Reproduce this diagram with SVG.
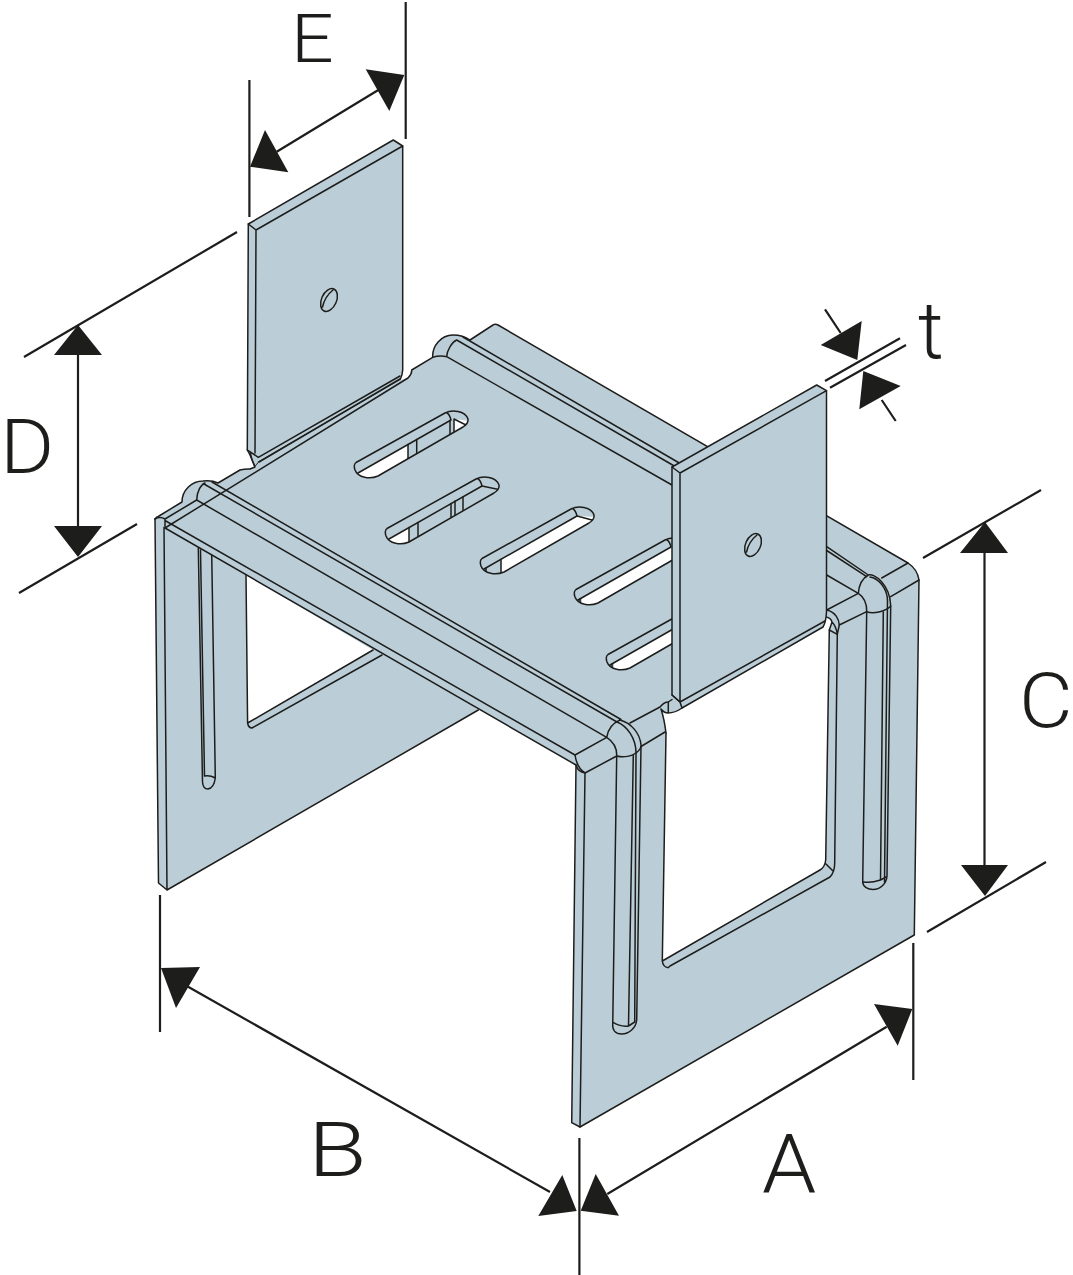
<svg xmlns="http://www.w3.org/2000/svg" width="1073" height="1275" viewBox="0 0 1073 1275">
<style>
.f{fill:#bbced8;stroke:none}
.o{fill:#bbced8;stroke:#1d1d1b;stroke-width:1.5;stroke-linejoin:round}
.l{fill:none;stroke:#1d1d1b;stroke-width:1.5;stroke-linejoin:round;stroke-linecap:round}
.w{fill:#fff;stroke:none}
.d{fill:none;stroke:#1d1d1b;stroke-width:2.2}
.h{fill:#1d1d1b;stroke:none}
.t{font-family:"Roboto","Liberation Sans",Arial,sans-serif;font-weight:300;font-size:76px;fill:#1d1d1b}
</style>
<defs>
<path id="slot" d="M356,462.500 L445,413 C452,409.500 465,410.500 468,419 C468.500,422 466,425 463,427 L378,476 C370,479.500 358,478 355,470 C354,467 354,464 356,462.500 Z"/>
<clipPath id="sc"><use href="#slot"/></clipPath>
<path id="innerline" d="M358,473 L451,420 C450,416 449,414 447,413"/>
</defs>
<rect width="1073" height="1275" fill="#fff"/>

<g id="tab-left">
<path class="o" d="M248.300,224 L393.300,140 L402.700,146 L402.700,370 Q402.500,375 400,380 L259,462 L255,467 L250,455 L247.300,450 Z"/>
<path class="l" d="M248.300,224 L256,230 L402.700,146 M256,230 L255,453 M247.300,450 L258.300,457.300 M250,451.500 C251,458 253,463 255,467 M258.300,457.300 L400,376"/>
<ellipse class="l" cx="329" cy="300" rx="7.500" ry="12" transform="rotate(24 329 300)"/>
<path class="l" d="M322.500,307 C324,300 328,294 333,290"/>
</g>

<g id="panel-left">
<path class="f" d="M155,519 L158.500,883 L167,890 L478.300,710 L400,650 L165,525 Z"/>
<path class="w" d="M246,575 L247.600,723 L373,650 Z"/>
<path class="l" d="M155,519 L158.500,883 L167,890 L478.300,710 M164,527 L167,890 M158.500,883 L167,890"/>
<path class="l" d="M246,575 L247.600,723 L373,650 M247.600,723 Q248.500,728 252,728 L382,655"/>
<path class="l" d="M198.300,548 L202.500,782 Q203,789 208,789 Q214,788 215.300,778 L211.700,553 M200.500,550 L204.500,776 M204.500,776 Q210,775 215.300,778"/>
</g>

<g id="body">
<path class="f" d="M155,519 Q156,517 159,516 L182,502 C182,490 192,481 203,481 Q212,480 218,483 L240,470 Q245,468.800 250,469 L255,467 L259,462 L400,380 L408,378 Q412,374 411.700,370 L432.700,357.300 C432,346 441,335 453,335 Q463,335 470,340 L493,325 Q495,323.500 498,325 L908,563 C914,567 918,573 919,580 L914.300,935 L580,1127 L571.700,1122.700 L576,765 L165,528 Z"/>
<path class="w" d="M666,733 C665,725 664,718 661,709.500 Q664,713 668,713 Q675,713 682,708 L823,627 L826,617 Q831,618 832,622 L829.300,632 L825.700,860 Q825,867 820,870 L662.500,961 Z"/>

<path class="l" d="M155,519 Q156,517 159,516 L182,502 C182,490 192,481 203,481 Q212,480 218,483 L240,470 Q245,468.800 250,469 L255,467"/>
<path class="l" d="M259,462 L400,379 M408,378 Q412,374 411.700,370 L432.700,357.300 C432,346 441,335 453,335 Q463,335 470,340 L493,325 Q495,323.500 498,325 L908,563 C914,567 918,573 919,580 L914.300,935 L580,1127 L571.700,1122.700 L576,765 L165,528 Z"/>
<path class="l" d="M155,519 Q160,516 165,519 L165,528 M165,519 L196.700,500 C197,491 201,484.500 205,483 M165,520.500 L575,755 Q577,768 585,773 L616.700,756 M576,765 Q578,772 585,773"/>
<path class="l" d="M196.700,500 L606.700,737.300 L575,755 M606.700,737.300 C608,729 613,723 620,720 M204,484 L617,722 M212,482 L621,719.500 M606.700,737.300 C614,742 617,749 616.700,756 C624,758 632,756 636,753 C640,750 641.500,748 641,745 C640,733 631,723 620,720 M617,722 C627,726 636,738 636,753 M641,746.500 L665,732 M630,723 L660,707 Q664,702 668.300,702 L672,699.500"/>
<path class="l" d="M661,709 Q664,713 668,713 Q675,713 682,708 M668.300,702 L668.300,712.700 M666,733 C665,725 664,718 661,709"/>

<path class="l" d="M432.700,357.300 Q440,355 446.700,356.700 C447,350 452,342 456.700,340 M446.700,356.700 L672,485 M456.700,340 L676,467 M463,337 L681,464"/>

<path class="l" d="M826.700,546.700 L868.300,575 M826.700,550.500 L866.700,576.700 M826.700,575 L858.300,593.300 M826.700,610 L858.300,593.300 C859,585 863,578 868.300,575 C874,573 890,584 890.700,606 C885,612 873,614 866.700,611.700 C867,602 864,597 858.300,593.300 M870,577 C878,578 887,588 887.500,600 M881.700,578 L908,563 M890.700,596.700 L919,580 M866.700,611.700 L839.300,625 C839,620 836,612 826.700,610"/>
<path class="l" d="M826,617 Q831,618 832,622 L829.300,630 L837.300,634.300 L839.300,625 M832,622 Q836,626 837.300,634.300"/>

<path class="l" d="M585,773 L580,1127 M616.700,756 L612.700,1027 M633.300,755 L628.500,1026 M636,753 L634.700,1022 M641,746.500 L636.700,1020 C636,1028 629,1034 621.700,1034 C615,1034 612.500,1030 612.700,1025 M612.700,1022 Q620,1027 628.500,1026 L634.700,1022"/>
<path class="l" d="M666,733 L662.300,961 Q663,967 668,967.700 Q669,967 670,966 L830,877 Q835,872 834.700,862 L837.300,634 M829.300,630 L825.700,860 Q825,867 820,870 L662.300,961 M826,864 L833,871"/>
<path class="l" d="M866.700,611.700 L862.700,882 C863,887 868,889.500 873,889.500 C880,889.500 886.500,884 887,876 L890.700,606 M883.300,612 L880.500,880 M887.500,600 L884.500,882 M862.700,881.700 Q870,883.500 880.500,880 L886,877"/>
</g>

<g id="slot-1">
<g clip-path="url(#sc)"><path class="w" d="M355,474.700 L408,444.500 L408,490 L355,490 Z"/><path class="w" d="M454,419 L470,421 L470,430 L454,438 Z"/>
<path class="l" d="M408,444.500 L408,470 M416.700,439.500 L416.700,470 M450,420.500 L450,450 M454,419 L454,450 M454,419 L466,425"/></g>
<use class="l" href="#slot"/><use class="l" href="#innerline"/>
</g>
<g id="slot-2" transform="translate(31,66)">
<g clip-path="url(#sc)"><path class="w" d="M355,474.700 L378,461.500 L378,490 L355,490 Z"/>
<path class="l" d="M378,461.500 L378,490 M387,456.500 L387,490 M420,437.500 L420,470 M424,435 L424,470 M432,431 L432,470 M451,420 L470,424"/></g>
<use class="l" href="#slot"/><use class="l" href="#innerline"/>
</g>
<g id="slot-3" transform="translate(126,96)">
<g clip-path="url(#sc)"><path class="w" d="M375,463.500 L451,420 L470,421 L470,440 L375,490 Z"/>
<path class="l" d="M360,472 L360,490 M375,463.500 L375,490"/></g>
<use class="l" href="#slot"/><use class="l" href="#innerline"/>
<path class="l" d="M451,420 L466,424"/>
</g>
<g id="slot-4" transform="translate(220,127)">
<g clip-path="url(#sc)"><path class="w" d="M362,470.700 L451,420 L470,421 L470,440 L362,490 Z"/>
<path class="l" d="M360,472 L360,490"/></g>
<use class="l" href="#slot"/><use class="l" href="#innerline"/>
</g>
<g id="slot-5" transform="translate(252,192)">
<g clip-path="url(#sc)"><path class="w" d="M362,470.700 L451,420 L470,421 L470,440 L362,490 Z"/>
<path class="l" d="M360,472 L360,490"/></g>
<use class="l" href="#slot"/><use class="l" href="#innerline"/>
</g>

<g id="tab-right">
<path class="o" d="M672,467 L816.700,385 L826.500,390.700 L826.500,612 Q826,622 823,627 L682,708 L680,702 L672,695 Z"/>
<path class="l" d="M672,467 L680,473 L826.500,390.700 M680,473 L680,702 M672,695 L680,702 L825,621"/>
<ellipse class="l" cx="753" cy="545" rx="7.500" ry="12" transform="rotate(24 753 545)"/>
<path class="l" d="M746.500,552 C748,545 752,539 757,535"/>
</g>

<g id="connectors">
<path class="d" d="M249.400,80 V217 M405.700,2 V139 M276.700,151.700 L378.300,90"/>
<path class="h" d="M404.300,75 L365.700,69.300 L389.300,111 Z M250,166.700 L265,130 L288.300,172.300 Z"/>
<path class="d" d="M825,381 L900,338.300 M830,387.700 L906,345 M825,309.300 L840.700,333 M881.700,400 L895.700,421"/>
<path class="h" d="M857.300,360 L861.700,321 L820.700,345 Z M863.300,371 L900.700,386 L859.300,409.300 Z"/>
<path class="d" d="M24,357 L237,232 M19,593 L137,524 M78,340 V540"/>
<path class="h" d="M78,325 L54,355 L102,355 Z M78,557 L54,526 L102,526 Z"/>
<path class="d" d="M923,558 L1041,490 M927,932 L1046,862 M984.500,540 V880"/>
<path class="h" d="M985,522 L960,553 L1008,553 Z M985,896 L961,865 L1008,865 Z"/>
<path class="d" d="M913.300,943 V1080 M579.400,1138 V1275 M607.300,1194 L886.700,1026.700"/>
<path class="h" d="M912.300,1009 L874,1004 L897.700,1045.700 Z M580.700,1210.700 L595.700,1174 L619,1215.700 Z"/>
<path class="d" d="M160,895 V1032 M185,985 L550,1192"/>
<path class="h" d="M576.700,1211 L562.300,1175 L538.300,1216 Z M161,968 L200,967 L176,1008 Z"/>
</g>

<g id="labels">
<text class="t" style="font-size:67px" transform="translate(291,62) scale(1.12,1)">E</text>
<text class="t" transform="translate(0,473) scale(1.09,1)">D</text>
<text class="t" transform="translate(1019,727) scale(1.09,1)">C</text>
<text class="t" transform="translate(308,1176) scale(1.26,1)">B</text>
<text class="t" style="font-size:82px" transform="translate(762,1191.500) scale(1.06,1)">A</text>
<text class="t" style="font-size:80px" x="918" y="358">t</text>
</g>
</svg>
